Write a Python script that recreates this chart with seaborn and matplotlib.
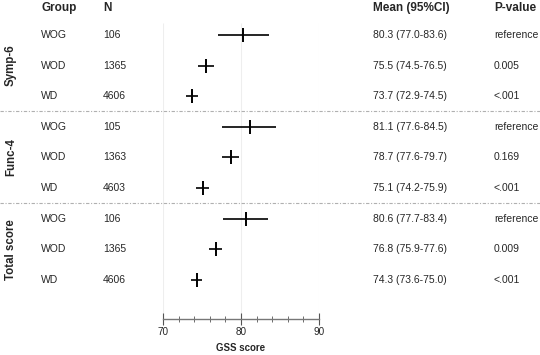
import numpy as np
import pandas as pd
import seaborn as sns
import matplotlib.pyplot as plt
from matplotlib.transforms import blended_transform_factory
from matplotlib.ticker import MultipleLocator

# data
sections = ["Symp-6", "Func-4", "Total score"]
groups = ["WOG", "WOD", "WD"]
n_values = [106, 1365, 4606, 105, 1363, 4603, 106, 1365, 4606]
means = [80.3, 75.5, 73.7, 81.1, 78.7, 75.1, 80.6, 76.8, 74.3]
ci_low = [77.0, 74.5, 72.9, 77.6, 77.6, 74.2, 77.7, 75.9, 73.6]
ci_high = [83.6, 76.5, 74.5, 84.5, 79.7, 75.9, 83.4, 77.6, 75.0]
p_values = ["reference", "0.005", "<.001", "reference", "0.169", "<.001", "reference", "0.009", "<.001"]

df = pd.DataFrame({
    "section": np.repeat(sections, len(groups)),
    "group": groups * len(sections),
    "n": n_values,
    "mean": means,
    "lo": ci_low,
    "hi": ci_high,
    "p": p_values,
})
df["row"] = np.arange(len(df))

sns.set_theme(style="white")
plt.rcParams["font.family"] = ["Liberation Sans", "DejaVu Sans"]

fig = plt.figure(figsize=(5.4, 3.55), dpi=100)
ax = fig.add_axes([163 / 540, 36 / 355, 156 / 540, 319 / 355])

# faint gridlines
ax.vlines([70, 80, 90], -0.4, 9.4, color="#eeeeee", lw=0.8, zorder=0)

ax.hlines(df["row"], df["lo"], df["hi"], color="black", lw=1.2, zorder=3)
sns.scatterplot(data=df, x="mean", y="row", marker="|", s=110, color="black",
                linewidth=1.4, ax=ax, zorder=4, legend=False)

ax.set_xlim(70, 90)
ax.set_ylim(9.28, -1.14)
ax.set_yticks([])
ax.set_ylabel("")
ax.xaxis.set_major_locator(MultipleLocator(10))
ax.xaxis.set_minor_locator(MultipleLocator(2))
ax.tick_params(axis="x", which="major", direction="inout", length=8, width=0.8,
               color="#555555", labelsize=7.2, pad=2, bottom=True)
ax.tick_params(axis="x", which="minor", direction="inout", length=4, width=0.6,
               color="#555555", bottom=True)
ax.set_xlabel("GSS score", fontsize=7, fontweight="bold", labelpad=4)
for s in ["top", "right", "left"]:
    ax.spines[s].set_visible(False)
ax.spines["bottom"].set_color("#777777")
ax.spines["bottom"].set_linewidth(1.0)

# table columns
tr = blended_transform_factory(fig.transFigure, ax.transData)
hdr_y = -0.88
for x, label in [(41, "Group"), (103, "N"), (373, "Mean (95%CI)"), (494, "P-value")]:
    ax.text(x / 540, hdr_y, label, transform=tr, fontsize=8.5, fontweight="bold",
            ha="left", va="center")
for _, r in df.iterrows():
    ax.text(41 / 540, r["row"], r["group"], transform=tr, fontsize=7.5, ha="left", va="center")
    ax.text(103 / 540, r["row"], str(r["n"]), transform=tr, fontsize=7.5, ha="left", va="center")
    ax.text(373 / 540, r["row"], f"{r['mean']:.1f} ({r['lo']:.1f}-{r['hi']:.1f})",
            transform=tr, fontsize=7.5, ha="left", va="center")
    ax.text(494 / 540, r["row"], r["p"], transform=tr, fontsize=7.5, ha="left", va="center")

for i, sec in enumerate(sections):
    ax.text(11 / 540, i * 3 + 1, sec, transform=tr, fontsize=8.3, fontweight="bold",
            rotation=90, ha="center", va="center")
    if i > 0:
        ax.plot([0, 1], [i * 3 - 0.5, i * 3 - 0.5], transform=tr, clip_on=False,
                color="#b0b0b0", lw=0.8, ls=(0, (3, 1.5, 1, 1.5)))

fig.savefig("out.png", dpi=100)
